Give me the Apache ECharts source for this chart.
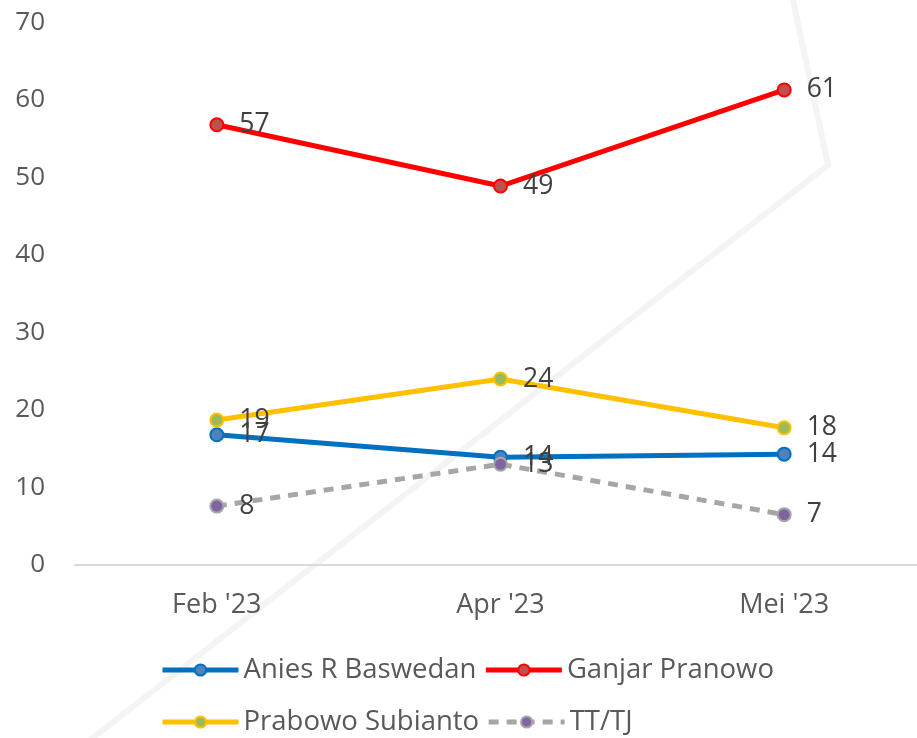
<!DOCTYPE html>
<html><head><meta charset="utf-8">
<script src="https://cdn.jsdelivr.net/npm/echarts@6/dist/echarts.min.js"></script>
<style>html,body{margin:0;padding:0;background:#fff;overflow:hidden}#c{width:940px;height:738px}</style>
</head><body><div id="c"></div>
<script>
const categories = ["Feb '23", "Apr '23", "Mei '23"];
const anies = [16.8, 13.9, 14.3];
const ganjar = [56.8, 48.9, 61.3];
const prabowo = [18.7, 24.0, 17.7];
const tttj = [7.6, 13.0, 6.5];
const yTicks = { min: 0, max: 70, interval: 10 };

const FONT = '"Open Sans", sans-serif';
const lbl = {
  show: true, position: 'right', distance: 15,
  fontSize: 26.5, color: '#404040', fontFamily: FONT,
  formatter: p => Math.round(p.value)
};
function mk(name, data, lineColor, fill, dashed) {
  return {
    name, type: 'line', data,
    symbol: 'circle', symbolSize: 13,
    lineStyle: { color: lineColor, width: 5, type: dashed ? [10, 8] : 'solid' },
    itemStyle: { color: fill, borderColor: lineColor, borderWidth: 2 },
    label: lbl, z: 3
  };
}
const legendCommon = {
  left: 155, itemWidth: 76, itemHeight: 14, itemGap: 7,
  lineStyle: { width: 5 },
  textStyle: { fontSize: 27.5, color: '#595959', fontFamily: FONT }
};
const chart = echarts.init(document.getElementById('c'));
chart.setOption({
  animation: false,
  backgroundColor: '#fff',
  textStyle: { fontFamily: FONT },
  grid: { left: 75, top: 22.5, width: 851, height: 542.5, containLabel: false },
  xAxis: {
    type: 'category', data: categories, boundaryGap: true,
    axisLine: { lineStyle: { color: '#d9d9d9', width: 2 } },
    axisTick: { show: false },
    axisLabel: { fontSize: 27, color: '#595959', margin: 27, fontFamily: FONT }
  },
  yAxis: {
    type: 'value', min: yTicks.min, max: yTicks.max, interval: yTicks.interval,
    axisLine: { show: false }, axisTick: { show: false },
    splitLine: { show: false },
    axisLabel: { fontSize: 26, color: '#595959', margin: 30, fontFamily: FONT }
  },
  legend: [
    Object.assign({ data: ['Anies R Baswedan', 'Ganjar Pranowo'], top: 651 }, legendCommon),
    Object.assign({ data: ['Prabowo Subianto', 'TT/TJ'], top: 703 }, legendCommon)
  ],
  graphic: [{
    type: 'polyline', silent: true, z: -1,
    shape: { points: [[793, 0], [828, 165], [90, 740]] },
    style: { stroke: '#f4f4f4', lineWidth: 6, fill: null }
  }],
  series: [
    mk('Anies R Baswedan', anies, '#0070c0', '#4f81bd'),
    mk('Ganjar Pranowo', ganjar, '#ff0000', '#c0504d'),
    mk('Prabowo Subianto', prabowo, '#ffc000', '#9bbb59'),
    mk('TT/TJ', tttj, '#a6a6a6', '#8064a2', true)
  ]
});
</script></body></html>
